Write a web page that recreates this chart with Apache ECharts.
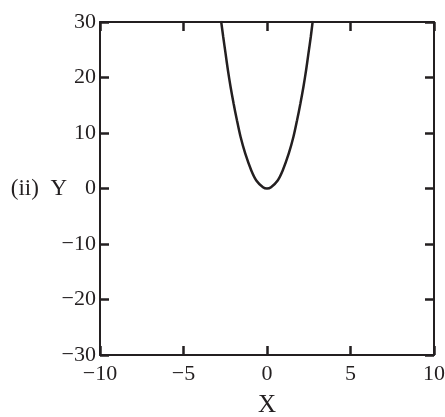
<!DOCTYPE html>
<html>
<head>
<meta charset="utf-8">
<script src="https://cdn.jsdelivr.net/npm/echarts@6/dist/echarts.min.js"></script>
<style>
  html, body { margin: 0; padding: 0; background: #fff; }
  #chart { width: 445px; height: 417px; }
</style>
</head>
<body>
<div id="chart"></div>
<script>
// values
const xVals = [-2.75, -2.62, -2.48, -2.34, -2.18, -2.0, -1.8, -1.58, -1.3, -0.94, -0.64, -0.24, 0,
  0.24, 0.64, 0.94, 1.3, 1.58, 1.8, 2.0, 2.18, 2.34, 2.48, 2.62, 2.74];
const yVals = [30.2, 27.3, 24.3, 21.3, 18.3, 15.3, 12.3, 9.27, 6.27, 3.25, 1.45, 0.23, 0,
  0.23, 1.45, 3.25, 6.27, 9.27, 12.3, 15.3, 18.3, 21.3, 24.3, 27.3, 30.2];
const xRange = [-10, 10];
const yRange = [-30, 30];
const xStep = 5;
const yStep = 10;

const ink = "#231f20";
const font = "'Liberation Serif', 'Times New Roman', Times, serif";

// typeset minus sign like the original
const minus = (v) => (v < 0 ? "\u2212" + Math.abs(v) : String(v));

const frameLine = { show: true, onZero: false, lineStyle: { color: ink, width: 2 } };
const innerTick = { show: true, inside: true, length: 9, lineStyle: { color: ink, width: 2.5 } };

const chart = echarts.init(document.getElementById("chart"), null, { renderer: "canvas" });

chart.setOption({
  animation: false,
  grid: {
    left: 100,
    right: 11,
    top: 22,
    bottom: 62,
    containLabel: false,
    outerBoundsMode: "none",
  },
  xAxis: [
    {
      type: "value",
      position: "bottom",
      min: xRange[0],
      max: xRange[1],
      interval: xStep,
      name: "X",
      nameLocation: "middle",
      nameGap: 38,
      nameMoveOverlap: false,
      nameTextStyle: { fontFamily: font, fontSize: 25, color: ink },
      axisLine: frameLine,
      axisTick: innerTick,
      splitLine: { show: false },
      axisLabel: { fontFamily: font, fontSize: 22, color: ink, margin: 8, formatter: minus },
    },
    {
      type: "value",
      position: "top",
      min: xRange[0],
      max: xRange[1],
      interval: xStep,
      axisLine: frameLine,
      axisTick: innerTick,
      splitLine: { show: false },
      axisLabel: { show: false },
    },
  ],
  yAxis: [
    {
      type: "value",
      position: "left",
      min: yRange[0],
      max: yRange[1],
      interval: yStep,
      name: "(ii)  Y",
      nameLocation: "middle",
      nameRotate: 0,
      nameGap: 33,
      nameMoveOverlap: false,
      nameTextStyle: { fontFamily: font, fontSize: 23, color: ink },
      axisLine: frameLine,
      axisTick: innerTick,
      splitLine: { show: false },
      axisLabel: { fontFamily: font, fontSize: 22, color: ink, margin: 4, formatter: minus },
    },
    {
      type: "value",
      position: "right",
      min: yRange[0],
      max: yRange[1],
      interval: yStep,
      axisLine: frameLine,
      axisTick: innerTick,
      splitLine: { show: false },
      axisLabel: { show: false },
    },
  ],
  series: [
    {
      type: "line",
      data: xVals.map((x, i) => [x, yVals[i]]),
      smooth: 0.3,
      showSymbol: false,
      symbol: "none",
      clip: true,
      lineStyle: { color: ink, width: 2.5 },
    },
  ],
});
</script>
</body>
</html>
